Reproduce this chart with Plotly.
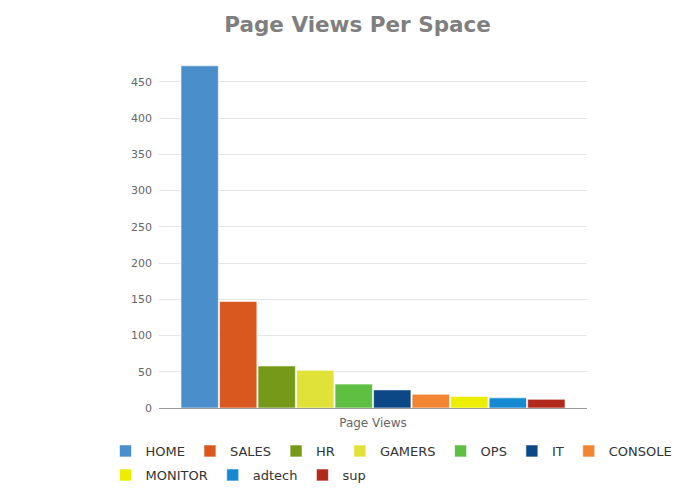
import plotly.graph_objects as go

spaces = ["HOME", "SALES", "HR", "GAMERS", "OPS", "IT", "CONSOLE", "MONITOR", "adtech", "sup"]
views = [472, 147, 58, 52, 33, 25, 19, 16, 14, 12]
colors = ["#4a8fcb", "#d9581f", "#77991a", "#e0e23a", "#5fbf42", "#0d4886",
          "#f28532", "#eded00", "#1589d1", "#b22a1c"]
category = ["Page Views"]

fig = go.Figure()

# first 7 spaces go in the top legend row, the rest in a second legend
for i, (name, v, c) in enumerate(zip(spaces, views, colors)):
    fig.add_trace(go.Bar(
        x=category, y=[v],
        name=name,
        legend="legend" if i < 7 else "legend2",
        marker=dict(color=c, line=dict(color="rgba(255,255,255,0.6)", width=1)),
    ))

# page is drawn with an 8px body margin, so everything is shifted up/left by 8
leg = dict(orientation="h", x=-0.125, xanchor="left", yanchor="middle",
           font=dict(size=13, color="#333333"), itemwidth=30,
           tracegroupgap=0, traceorder="normal", bgcolor="rgba(0,0,0,0)")

fig.update_layout(
    title=dict(text="<b>Page Views Per Space</b>", x=0.503, xanchor="center",
               y=1 - 16 / 494, yanchor="middle",
               font=dict(family="DejaVu Sans", size=21.5, color="#7f7f7f")),
    width=695, height=494,
    margin=dict(l=151, r=116, t=52, b=94, autoexpand=False),
    paper_bgcolor="white", plot_bgcolor="white",
    barmode="group", bargap=0.1, bargroupgap=0.03,
    font=dict(family="DejaVu Sans", color="#666666"),
    legend=dict(leg, y=-43 / 348),
    legend2=dict(leg, y=-67 / 348),
    xaxis=dict(showline=True, linecolor="#999999", linewidth=1,
               ticks="", showticklabels=False,
               title=dict(text="Page Views", font=dict(size=12, color="#666666"), standoff=10)),
    yaxis=dict(range=[0, 480], dtick=50, tick0=0, showgrid=True, gridcolor="#e6e6e6",
               zeroline=False, showline=False, ticks="",
               tickfont=dict(size=11, color="#666666"), ticklabelstandoff=6),
)

fig.write_html("out.html")
